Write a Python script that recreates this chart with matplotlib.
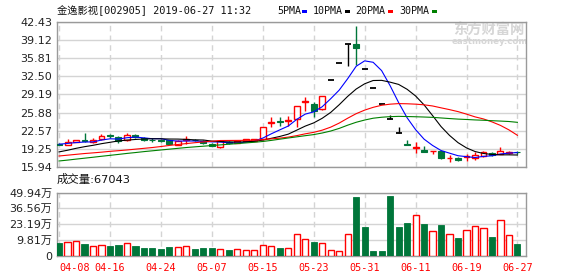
import numpy as np
import matplotlib
matplotlib.use('Agg')
import matplotlib.pyplot as plt
from matplotlib.patches import Rectangle

# trading days on the chart
dates = ['04-08', '04-09', '04-10', '04-11', '04-12', '04-15', '04-16', '04-17', '04-18', '04-19',
         '04-22', '04-23', '04-24', '04-25', '04-26', '04-29', '04-30', '05-06', '05-07', '05-08',
         '05-09', '05-10', '05-13', '05-14', '05-15', '05-16', '05-17', '05-20', '05-21', '05-22',
         '05-23', '05-24', '05-27', '05-28', '05-29', '05-30', '05-31', '06-03', '06-04', '06-05',
         '06-06', '06-10', '06-11', '06-12', '06-13', '06-14', '06-17', '06-18', '06-19', '06-20',
         '06-21', '06-24', '06-25', '06-26', '06-27']

opens = [20.2, 19.96, 20.55, 20.8, 20.55, 21.05, 21.7, 21.45, 20.8, 21.7,
         21.3, 20.9, 20.8, 20.8, 20.0, 20.9, 20.95, 20.6, 20.15, 19.55,
         20.55, 20.4, 20.7, 20.75, 21.0, 24.0, 24.4, 24.3, 24.7, 27.8,
         27.45, 26.5, 31.79, 34.97, 38.46, 38.4, 33.84, 30.46, 27.41, 24.67,
         22.2, 20.0, 19.5, 19.05, 18.8, 18.85, 17.5, 17.55, 17.75, 17.65,
         18.0, 18.55, 18.3, 18.55, 18.65]
highs = [20.4, 21.0, 20.9, 22.2, 21.2, 21.95, 21.9, 21.6, 22.1, 21.9,
         21.5, 21.2, 21.0, 20.9, 20.9, 21.6, 21.1, 20.8, 20.3, 20.9,
         20.7, 20.7, 21.1, 21.1, 23.2, 25.0, 25.0, 25.3, 27.1, 28.7,
         27.9, 28.9, 31.79, 34.97, 38.46, 41.7, 33.84, 30.46, 27.41, 25.4,
         23.3, 20.8, 20.45, 19.8, 18.95, 18.9, 18.1, 17.7, 18.3, 18.7,
         18.8, 18.6, 19.65, 18.9, 18.8]
lows = [19.9, 19.9, 20.5, 20.5, 20.4, 20.9, 21.3, 20.3, 20.6, 21.3,
        20.7, 20.5, 20.5, 20.1, 19.9, 20.2, 20.6, 20.2, 19.7, 19.4,
        20.2, 20.3, 20.6, 20.6, 20.9, 23.3, 23.5, 23.4, 23.3, 26.2,
        25.1, 26.4, 31.79, 34.97, 34.45, 34.6, 33.84, 30.46, 27.41, 24.67,
        22.2, 19.98, 18.45, 18.7, 18.4, 17.35, 16.9, 17.1, 17.1, 17.2,
        17.8, 18.0, 18.3, 18.35, 18.4]
closes = [20.0, 20.45, 20.8, 20.6, 20.8, 21.65, 21.6, 20.6, 21.8, 21.4,
          20.9, 20.8, 20.7, 20.2, 20.75, 21.0, 20.8, 20.3, 19.8, 20.6,
          20.3, 20.6, 21.0, 21.0, 23.2, 24.2, 24.2, 24.5, 27.1, 28.0,
          26.25, 28.9, 31.79, 34.97, 38.46, 37.6, 33.84, 30.46, 27.41, 24.67,
          22.2, 19.98, 19.6, 18.7, 18.9, 17.55, 17.6, 17.25, 17.85, 18.1,
          18.6, 18.15, 18.9, 18.65, 18.6]
# volume in 万
volumes = [10.5, 11.2, 11.8, 9.4, 7.9, 8.7, 7.9, 8.7, 10.2, 7.9,
           6.3, 6.3, 5.5, 7.1, 6.8, 7.6, 5.5, 6.3, 6.3, 5.3,
           4.7, 5.3, 4.7, 4.7, 8.4, 7.6, 6.4, 6.3, 17.3, 13.1,
           11.2, 10.2, 4.7, 3.9, 17.3, 46.6, 22.8, 3.9, 3.9, 47.4,
           22.8, 26.0, 32.2, 25.4, 19.7, 24.6, 17.3, 14.2, 20.4, 23.4,
           22.0, 14.9, 28.3, 16.5, 9.7]

ma5 = [20.1, 20.25, 20.4, 20.5, 20.53, 20.86, 21.09, 21.05, 21.29, 21.41,
       21.26, 21.1, 21.12, 20.8, 20.67, 20.69, 20.69, 20.61, 20.53, 20.5,
       20.36, 20.32, 20.46, 20.7, 21.22, 22.0, 22.72, 23.42, 24.64, 25.6,
       26.01, 26.95, 28.41, 29.98, 32.07, 34.34, 35.33, 35.07, 33.55, 30.8,
       27.72, 24.94, 22.77, 21.03, 19.88, 18.95, 18.47, 18.0, 17.83, 17.67,
       17.88, 17.99, 18.32, 18.48, 18.58]
ma10 = [18.7, 19.0, 19.35, 19.65, 19.9, 20.2, 20.45, 20.7, 20.85, 20.97,
        21.06, 21.1, 21.09, 21.05, 21.04, 20.98, 20.9, 20.87, 20.67, 20.59,
        20.53, 20.5, 20.54, 20.62, 20.86, 21.18, 21.52, 21.94, 22.67, 23.41,
        24.0, 24.84, 25.91, 27.31, 28.84, 30.18, 31.14, 31.74, 31.77, 31.44,
        31.03, 30.14, 28.92, 27.29, 25.34, 23.33, 21.71, 20.39, 19.43, 18.77,
        18.41, 18.23, 18.16, 18.16, 18.13]
ma20 = [17.95, 18.1, 18.25, 18.4, 18.52, 18.65, 18.8, 18.92, 19.05, 19.2,
        19.35, 19.5, 19.68, 19.88, 20.05, 20.22, 20.38, 20.52, 20.65, 20.78,
        20.79, 20.8, 20.81, 20.83, 20.95, 21.08, 21.21, 21.4, 21.67, 22.0,
        22.27, 22.67, 23.22, 23.96, 24.85, 25.68, 26.33, 26.84, 27.22, 27.42,
        27.52, 27.49, 27.42, 27.3, 27.09, 26.75, 26.42, 26.06, 25.6, 25.1,
        24.72, 24.18, 23.54, 22.72, 21.73]
ma30 = [17.04, 17.2, 17.38, 17.55, 17.72, 17.9, 18.07, 18.24, 18.42, 18.58,
        18.75, 18.9, 19.05, 19.2, 19.35, 19.5, 19.62, 19.74, 19.86, 19.98,
        20.1, 20.22, 20.34, 20.46, 20.6, 20.8, 21.02, 21.24, 21.45, 21.66,
        21.86, 22.15, 22.51, 22.99, 23.58, 24.11, 24.52, 24.85, 25.03, 25.14,
        25.19, 25.16, 25.12, 25.07, 25.01, 24.9, 24.79, 24.69, 24.62, 24.54,
        24.48, 24.4, 24.33, 24.25, 24.1]

price_ticks = [15.94, 19.25, 22.57, 25.88, 29.19, 32.50, 35.81, 39.12, 42.43]
vol_tick_labels = ['0', '9.81万', '23.19万', '36.56万', '49.94万']
vol_top = 49.94
title = '金逸影视[002905] 2019-06-27 11:32'
volume_label = '成交量:67043'
ma_names = ['5PMA', '10PMA', '20PMA', '30PMA']

RED = '#ff0000'
GREEN = '#00763a'
GRID = '#d4d4d4'
FRAME = '#9a9a9a'
ma_colors = ['#0000ff', '#000000', '#ff0000', '#008000']

W, H = 578, 276
fig = plt.figure(figsize=(W / 100, H / 100), dpi=100)


def px_axes(left, top, right, bottom):
    # axes placed with pixel coordinates of the reference
    return fig.add_axes([left / W, 1 - bottom / H, (right - left) / W, (bottom - top) / H])


ax = px_axes(56.5, 22, 525.5, 167)
axv = px_axes(56.5, 192.5, 525.5, 256)

x = np.arange(len(dates))
o = np.array(opens)
h = np.array(highs)
l = np.array(lows)
c = np.array(closes)
v = np.array(volumes)

up = c > o
down = c < o
flat = ~up & ~down
prev = np.r_[c[0], c[:-1]]
vol_up = up | (flat & (c >= prev))

cw = 0.7
body_h = np.maximum(np.abs(c - o), 0.12)
body_b = np.minimum(o, c)

# wicks first, then bodies on top
wick_col = np.where(up, RED, np.where(down, GREEN, 'black'))
ax.vlines(x, l, h, colors=wick_col, lw=1, zorder=2)
ax.bar(x[up], body_h[up], bottom=body_b[up], width=cw, facecolor='white',
       edgecolor=RED, lw=1, zorder=3)
ax.bar(x[down], body_h[down], bottom=body_b[down], width=cw, facecolor=GREEN,
       edgecolor=GREEN, lw=0.8, zorder=3)
ax.hlines(c[flat], x[flat] - cw / 2, x[flat] + cw / 2, colors='black', lw=1.3, zorder=3)

for ma, col in zip([ma5, ma10, ma20, ma30], ma_colors):
    ax.plot(x, ma, color=col, lw=0.8, zorder=4)

# volume bars
axv.bar(x[vol_up], v[vol_up], width=0.72, facecolor='white', edgecolor=RED, lw=1, zorder=3)
axv.bar(x[~vol_up], v[~vol_up], width=0.72, facecolor=GREEN, edgecolor=GREEN, lw=0.6, zorder=3)

for a in (ax, axv):
    a.set_xlim(-0.3, 54.95)
    a.set_xticks(x[::6])
    a.xaxis.grid(True, color=GRID, lw=1, ls=(0, (4, 3)))
    a.yaxis.grid(True, color=GRID, lw=1, ls='-')
    a.set_axisbelow(True)
    for s in a.spines.values():
        s.set_color(FRAME)
        s.set_linewidth(1)
    a.tick_params(length=0, labelsize=8, labelcolor='#222222', pad=3)

ax.set_ylim(15.94, 42.43)
ax.set_yticks(price_ticks)
ax.set_yticklabels(['%.2f' % t for t in price_ticks])
ax.tick_params(axis='x', labelbottom=False)

axv.set_ylim(0, vol_top)
axv.set_yticks(np.linspace(0, vol_top, 5))
axv.set_yticklabels(vol_tick_labels, family=['DejaVu Sans', 'Noto Sans CJK SC'])
axv.set_xticklabels(dates[::6], color=RED, family='DejaVu Sans Mono', fontsize=7.3)
axv.tick_params(axis='x', pad=5)
axv.get_xticklabels()[0].set_horizontalalignment('left')

# header text and legend
fig.text(57 / W, 1 - 11 / H, title, family=['DejaVu Sans Mono', 'Noto Sans CJK SC'],
         fontsize=7.4, va='center', color='#111111')
leg_x = [277, 313, 355, 399]
sq_x = [302, 345, 388, 432]
for name, col, tx, sx in zip(ma_names, ma_colors, leg_x, sq_x):
    fig.text(tx / W, 1 - 11 / H, name, family='DejaVu Sans Mono', fontsize=7.2,
             va='center', color='#111111')
    fig.add_artist(Rectangle((sx / W, 1 - 13 / H), 5 / W, 3 / H, transform=fig.transFigure,
                             color=col, lw=0))

fig.text(57 / W, 1 - 179 / H, volume_label, family=['DejaVu Sans', 'Noto Sans CJK SC'],
         fontsize=8.2, va='center', color='#111111')

# watermark
ax.text(453 / W, 1 - 31 / H, '东方财富网', transform=fig.transFigure, family='Noto Sans CJK SC',
        fontsize=10.3, weight='bold', color='#d6d6d6', va='center', zorder=1)
ax.text(452 / W, 1 - 41.5 / H, 'eastmoney.com', transform=fig.transFigure,
        fontsize=6.2, weight='bold', color='#d6d6d6', va='center', zorder=1)

fig.savefig('out.png', dpi=100)
